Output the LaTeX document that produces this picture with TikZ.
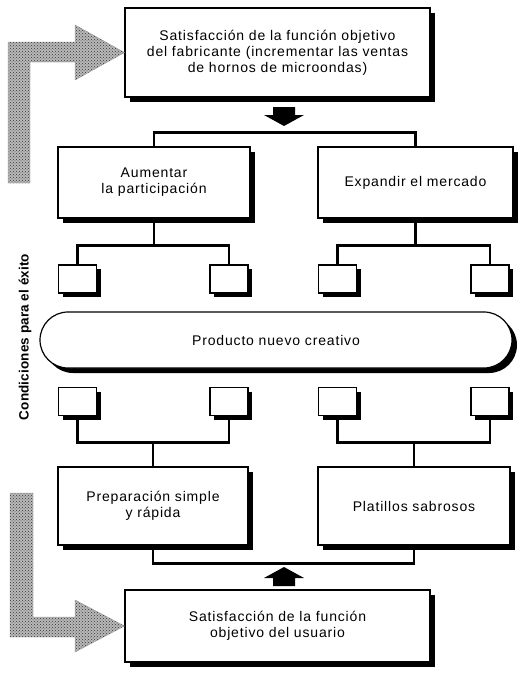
\documentclass[tikz,border=0pt]{standalone}
\usepackage{fontspec}
\setsansfont{Liberation Sans}[LetterSpace=6.0]
\usetikzlibrary{positioning,shadows,shapes.misc,patterns}

\begin{document}
\begin{tikzpicture}[x=1pt,y=-1pt,
        caja/.style={draw,line width=1.2pt,fill=white,align=center,inner sep=0pt,
            font=\sffamily\fontsize{14}{16}\selectfont,
            drop shadow={shadow xshift=5pt,shadow yshift=-5pt,fill=black,opacity=1}},
        cajita/.style={draw,line width=1.2pt,fill=white,minimum width=38pt,minimum height=28pt,
            drop shadow={shadow xshift=4pt,shadow yshift=-4pt,fill=black,opacity=1}},
        linea/.style={line width=2.4pt},
        gris/.style={fill=gray!55,draw=gray!80,postaction={pattern=crosshatch dots,pattern color=black!80}}]
            \useasboundingbox (0,0) rectangle (517,680);

            		\node (fab) at (277.5,52.5) [caja,minimum width=305pt,minimum height=89pt] {Satisfacción de la función objetivo\\del fabricante (incrementar las ventas\\de hornos de microondas)};
            		\coordinate (bajar) at (284,107);

            		\node (aum) at (154,182.5) [caja,minimum width=192pt,minimum height=71pt] {Aumentar\\la participación};
            		\node (exp) at (415.5,182.5) [caja,minimum width=195pt,minimum height=71pt] {Expandir el mercado};

            		\node (a1) at (77.5,279) [cajita] {};
            		\node (a2) at (229,279) [cajita] {};
            		\node (a3) at (337.5,279) [cajita] {};
            		\node (a4) at (490,279) [cajita] {};

            		\node (prod) at (276,340) [caja,rounded rectangle,minimum width=472pt,minimum height=56pt] {Producto nuevo creativo};

            		\node (b1) at (77.5,401.5) [cajita] {};
            		\node (b2) at (229,401.5) [cajita] {};
            		\node (b3) at (337.5,401.5) [cajita] {};
            		\node (b4) at (490,401.5) [cajita] {};

            		\node (prep) at (153,506) [caja,minimum width=190pt,minimum height=78pt] {Preparación simple\\y rápida};
            		\node (plat) at (414,506) [caja,minimum width=192pt,minimum height=78pt] {Platillos sabrosos};

            		\coordinate (subir) at (284,586);
            		\node (usu) at (277.5,626) [caja,minimum width=305pt,minimum height=72pt] {Satisfacción de la función\\objetivo del usuario};

            		\node (cond) at (25,337) [rotate=90,font=\sffamily\bfseries\fontsize{13.5}{15}\selectfont\addfontfeature{LetterSpace=1.0}] {Condiciones para el éxito};

            		% conectores
            		\draw[linea] (aum.north) -- ++(0,-14) -| (exp.north);
            		\draw[linea] (aum.south) -- ++(0,27) coordinate (ja);
            		\draw[linea] (a1.north) |- (ja) -| (a2.north);
            		\draw[linea] (exp.south) -- ++(0,27) coordinate (je);
            		\draw[linea] (a3.north) |- (je) -| (a4.north);
            		\draw[linea] (prep.north) -- ++(0,-24) coordinate (jp);
            		\draw[linea] (b1.south) |- (jp) -| (b2.south);
            		\draw[linea] (plat.north) -- ++(0,-24) coordinate (jl);
            		\draw[linea] (b3.south) |- (jl) -| (b4.south);
            		\draw[linea] (prep.south) -- ++(0,18) -| (plat.south);

            		% flechas negras
            		\fill (bajar) ++(-11,0) -- ++(22,0) -- ++(0,8) -- ++(9,0) -- ++(-20,11) -- ++(-20,-11) -- ++(9,0) -- cycle;
            		\fill (subir) ++(-11,0) -- ++(22,0) -- ++(0,-8) -- ++(9,0) -- ++(-20,-11) -- ++(-20,11) -- ++(9,0) -- cycle;

            		% flechas grises
            		\draw[gris] (8,183) -- (8,42) -- (75,42) -- (75,25) -- (fab.west) -- (75,80) -- (75,62) -- (30,62) -- (30,183) -- cycle;
            		\draw[gris] (10,493) -- (33,493) -- (33,617) -- (75,617) -- (75,600) -- (usu.west) -- (75,652) -- (75,637) -- (10,637) -- cycle;
        		\end{tikzpicture}
\end{document}
